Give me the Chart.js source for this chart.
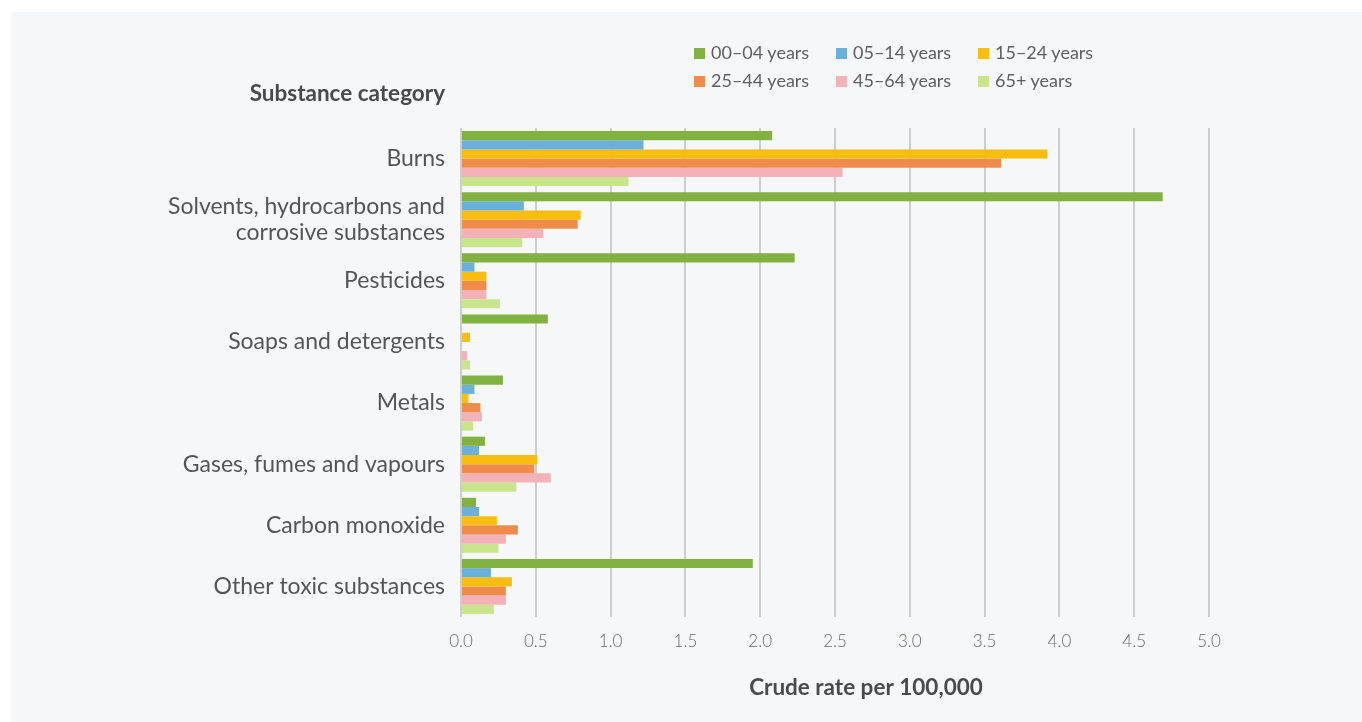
<!DOCTYPE html>
<html>
<head>
<meta charset="utf-8">
<script src="https://cdn.jsdelivr.net/npm/chart.js@4"></script>
<style>
html,body{margin:0;padding:0;background:#ffffff;}
#wrap{position:relative;width:1362px;height:722px;overflow:hidden;}
#card{position:absolute;left:11px;top:12px;right:0;bottom:0;background:#f6f7f9;}
#c{position:absolute;left:0;top:0;}
.leg{position:absolute;font-family:Lato,"Open Sans",sans-serif;font-size:18px;color:#5f5f5f;white-space:nowrap;line-height:20px;}
.leg i{display:inline-block;width:11px;height:11px;margin-right:6px;vertical-align:0px;}
</style>
</head>
<body>
<div id="wrap">
<div id="card"></div>
<canvas id="c" width="1362" height="722"></canvas>
<div id="legend"></div>
</div>
<script>
const categories = [
  "Burns",
  ["Solvents, hydrocarbons and", "corrosive substances"],
  "Pesticides",
  "Soaps and detergents",
  "Metals",
  "Gases, fumes and vapours",
  "Carbon monoxide",
  "Other toxic substances"
];
const seriesNames = ["00\u201304 years","05\u201314 years","15\u201324 years","25\u201344 years","45\u201364 years","65+ years"];
const age00_04 = [2.08, 4.69, 2.23, 0.58, 0.28, 0.16, 0.10, 1.95];
const age05_14 = [1.22, 0.42, 0.09, 0.00, 0.09, 0.12, 0.12, 0.20];
const age15_24 = [3.92, 0.80, 0.17, 0.06, 0.05, 0.51, 0.24, 0.34];
const age25_44 = [3.61, 0.78, 0.17, 0.00, 0.13, 0.49, 0.38, 0.30];
const age45_64 = [2.55, 0.55, 0.17, 0.04, 0.14, 0.60, 0.30, 0.30];
const age65p   = [1.12, 0.41, 0.26, 0.06, 0.08, 0.37, 0.25, 0.22];
const xTicks = [0, 0.5, 1, 1.5, 2, 2.5, 3, 3.5, 4, 4.5, 5];
const colors = ["#80b141","#6ab0da","#f8bd10","#ef8c4b","#f2b2b7","#c9e58b"];
const yTitle = "Substance category";
const xTitle = "Crude rate per 100,000";

const seriesValues = [age00_04, age05_14, age15_24, age25_44, age45_64, age65p];
const FONT = "Lato, 'Open Sans', sans-serif";

// HTML legend
const legPos = [[694,42],[836,42],[978,42],[694,70],[836,70],[978,70]];
const legEl = document.getElementById('legend');
seriesNames.forEach((n,i)=>{
  const d = document.createElement('div');
  d.className='leg';
  d.style.left = legPos[i][0]+'px';
  d.style.top = legPos[i][1]+'px';
  d.innerHTML = '<i style="background:'+colors[i]+'"></i>'+n;
  legEl.appendChild(d);
});

const titlesPlugin = {
  id:'titles',
  afterDraw(chart){
    const ctx = chart.ctx;
    ctx.save();
    ctx.fillStyle = '#4a4a4a';
    ctx.font = 'bold 22.5px ' + FONT;
    ctx.textAlign = 'right';
    ctx.textBaseline = 'middle';
    ctx.fillText(yTitle, 445, 94);
    ctx.textAlign = 'center';
    ctx.fillText(xTitle, 866, 688);
    ctx.restore();
  }
};

new Chart(document.getElementById('c'), {
  type:'bar',
  data:{
    labels: categories,
    datasets: seriesNames.map((n,i)=>({
      label:n,
      data: seriesValues[i],
      backgroundColor: colors[i],
      borderWidth:0,
      barPercentage:1.0,
      categoryPercentage:0.9
    }))
  },
  options:{
    indexAxis:'y',
    responsive:false,
    animation:false,
    devicePixelRatio:1,
    layout:{padding:{left:0,right:153,top:128,bottom:0}},
    plugins:{legend:{display:false},tooltip:{enabled:false},title:{display:false}},
    scales:{
      x:{
        min:0,max:5,
        afterBuildTicks(s){ s.ticks = xTicks.map(v=>({value:v})); },
        afterFit(s){ s.height = 105; },
        grid:{color:'#cdcdcd',lineWidth:2,drawTicks:false},
        border:{display:false},
        ticks:{
          padding:14,
          color:'#6b6b6b',
          font:{family:FONT,size:17,weight:'300'},
          callback:(v)=>Number(v).toFixed(1)
        }
      },
      y:{
        afterFit(s){ s.width = 461; },
        grid:{display:false,drawTicks:false},
        border:{display:false},
        ticks:{
          padding:16,
          color:'#555555',
          font:{family:FONT,size:23,weight:'normal',lineHeight:1.15}
        }
      }
    }
  },
  plugins:[titlesPlugin]
});
</script>
</body>
</html>
